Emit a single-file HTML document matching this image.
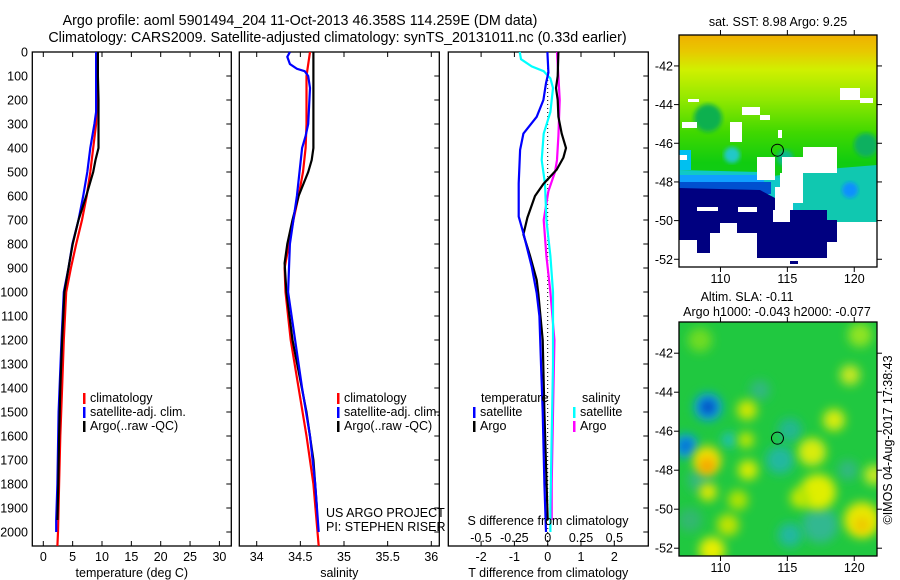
<!DOCTYPE html>
<html><head><meta charset="utf-8"><style>
html,body{margin:0;padding:0;background:#fff;width:900px;height:580px;overflow:hidden}
svg{display:block;font-family:"Liberation Sans",sans-serif}
</style></head><body>
<svg id="fig" width="900" height="580" viewBox="0 0 900 580" xmlns="http://www.w3.org/2000/svg">
<defs>
<filter id="blur4" x="-80%" y="-80%" width="260%" height="260%"><feGaussianBlur stdDeviation="5"/></filter>
<filter id="blur2"><feGaussianBlur stdDeviation="2"/></filter>
<linearGradient id="sstgrad" x1="0" y1="0" x2="0" y2="1">
<stop offset="0" stop-color="#f0b000"/><stop offset="0.07" stop-color="#e8c800"/><stop offset="0.15" stop-color="#d0f000"/><stop offset="0.28" stop-color="#90e800"/><stop offset="0.42" stop-color="#40d800"/><stop offset="0.55" stop-color="#10cc10"/><stop offset="1" stop-color="#10c840"/>
</linearGradient>
<clipPath id="clipTop"><rect x="679" y="35" width="198" height="232"/></clipPath>
<clipPath id="clipBot"><rect x="679" y="322" width="198" height="234"/></clipPath>
</defs>
<g id="titles" font-size="14.3" fill="#000">
<text x="300" y="25" text-anchor="middle">Argo profile: aoml 5901494_204 11-Oct-2013 46.358S 114.259E (DM data)</text>
<text x="337.5" y="42" text-anchor="middle">Climatology: CARS2009. Satellite-adjusted climatology: synTS_20131011.nc (0.33d earlier)</text>
</g>
<g id="panels"></g>
<g id="maps"></g>
</svg>
<script>
// ---------- data ----------
const depthTicks = [0,100,200,300,400,500,600,700,800,900,1000,1100,1200,1300,1400,1500,1600,1700,1800,1900,2000];
const tempTicks = [0,5,10,15,20,25,30];
const salTicks = [34,34.5,35,35.5,36];
const salTickLabels = ["34","34.5","35","35.5","36"];
const tdiffTicks = [-2,-1,0,1,2];
const sdiffTicks = [-0.5,-0.25,0,0.25,0.5];
const sdiffTickLabels = ["-0.5","-0.25","0","0.25","0.5"];

const tArgoDepth = [0,100,200,300,400,450,500,600,700,800,900,1000,1200,1400,1600,1800,1950];
const tArgoVal   = [9.3,9.3,9.4,9.4,9.4,8.9,8.5,7.3,6.0,5.0,4.3,3.6,3.2,2.9,2.7,2.55,2.4];
const tSatDepth  = [0,250,300,400,500,600,700,800,900,1000,1200,1500,1800,1950,2000];
const tSatVal    = [9.0,9.0,8.7,8.0,7.5,6.8,6.0,4.95,4.3,3.5,3.1,2.6,2.4,2.2,2.2];
const tClimDepth = [0,200,300,400,500,600,700,800,900,1000,1200,1400,1600,1800,2000,2058];
const tClimVal   = [9.1,9.1,9.0,8.5,8.0,7.4,6.6,5.6,4.7,3.9,3.5,3.2,2.9,2.7,2.5,2.4];

const sArgoDepth = [0,400,450,500,600,700,800,880,1000,1200,1500,1700,1900];
const sArgoVal   = [34.65,34.65,34.63,34.59,34.48,34.41,34.35,34.32,34.34,34.41,34.57,34.65,34.69];
const sSatDepth  = [0,20,50,70,80,100,150,300,350,400,500,600,700,800,900,1000,1200,1400,1600,1800,2000];
const sSatVal    = [34.38,34.35,34.38,34.46,34.55,34.59,34.61,34.59,34.56,34.52,34.49,34.46,34.42,34.38,34.37,34.36,34.44,34.52,34.61,34.67,34.71];
const sClimDepth = [0,100,300,400,500,600,700,800,900,1000,1200,1400,1600,1800,2058];
const sClimVal   = [34.61,34.57,34.57,34.56,34.53,34.48,34.42,34.37,34.32,34.33,34.39,34.48,34.57,34.65,34.71];

const dTSatDepth = [0,86,130,200,270,340,408,547,686,755,894,1005,1100,1300,1500,1800,2000];
const dTSatVal   = [-0.01,0.02,-0.05,-0.13,-0.33,-0.73,-0.83,-0.87,-0.87,-0.73,-0.48,-0.33,-0.25,-0.2,-0.15,-0.1,-0.05];
const dTArgoDepth = [0,100,150,200,270,340,400,440,490,550,600,690,760,850,950,1010,1200,1500,1950];
const dTArgoVal   = [0.32,0.3,0.25,0.3,0.32,0.42,0.55,0.47,0.27,-0.13,-0.38,-0.61,-0.73,-0.53,-0.33,-0.28,-0.15,-0.1,0.0];
const dSSatDepth = [0,30,60,80,110,150,250,340,450,550,700,850,1000,1300,1600,1900,2000];
const dSSatVal   = [-0.21,-0.2,-0.12,-0.03,0.02,0.04,0.02,-0.03,-0.045,-0.02,-0.01,0.02,0.04,0.04,0.03,0.02,0.02];
const dSArgoDepth = [0,100,200,350,450,500,580,700,850,1000,1200,1500,1800,1950];
const dSArgoVal   = [0.07,0.08,0.09,0.08,0.07,0.055,0.005,-0.03,-0.01,0.02,0.05,0.04,0.03,0.03];

const latTicks = [-42,-44,-46,-48,-50,-52];
const lonTicks = [110,115,120];
const argoLon = 114.259, argoLat = -46.358;

// ---------- helpers ----------
const NS = "http://www.w3.org/2000/svg";
function mk(tag, attrs, parent){ const e=document.createElementNS(NS,tag); for(const k in attrs) e.setAttribute(k,attrs[k]); if(parent) parent.appendChild(e); return e; }
const TOP=52, BOT=546;
const yD = d => TOP + d*0.24;
const panelsG = document.getElementById('panels');

function txt(parent, x, y, s, anchor, size){ const t=mk('text',{x:x,y:y,'text-anchor':anchor||'start','font-size':size||12.5},parent); t.textContent=s; return t; }

function drawPanel(name, L, R, xfn, ticks, labels, title){
  const g = mk('g',{},panelsG);
  
  
  mk('rect',{x:L,y:TOP,width:R-L,height:BOT-TOP,fill:'none',stroke:'#000','stroke-width':1.3},g);
  depthTicks.forEach(d=>{ mk('line',{x1:R-5,x2:R,y1:yD(d),y2:yD(d),stroke:'#000'},g); });
  ticks.forEach((v,i)=>{ const x=xfn(v);
    mk('line',{x1:x,x2:x,y1:TOP,y2:TOP+5,stroke:'#000'},g);
    mk('line',{x1:x,x2:x,y1:BOT-5,y2:BOT,stroke:'#000'},g);
    if(labels){ const t=txt(g,x,561,labels[i],'middle');
      
       }
  });
  if(title){ const t=txt(g,(L+R)/2,577,title,'middle');
    
     }
  return g;
}
function line(g, name, depths, vals, xfn, color, w){
  const pts = depths.map((d,i)=> xfn(vals[i]).toFixed(1)+','+yD(d).toFixed(1)).join(' ');
  const p = mk('polyline',{points:pts,fill:'none',stroke:color,'stroke-width':w||2.2,'stroke-linejoin':'miter'},g);
  
  
}
function legend(g, x, y, items){
  items.forEach((it,i)=>{
    mk('rect',{x:x,y:y+i*14-9,width:2.5,height:11,fill:it[0]},g);
    const t=txt(g,x+7,y+i*14,it[1],'start');
    
    
  });
}

// y-axis labels
const yg = mk('g',{},panelsG);


depthTicks.forEach(d=>{ txt(yg,28,yD(d)+4.5,String(d),'end'); });

// temperature panel
const xT = v => 43.3 + v*5.87;
const gT = drawPanel('temperature-panel',32.3,231.3,xT,tempTicks,tempTicks.map(String),'temperature (deg C)');
line(gT,'temp-climatology-line',tClimDepth,tClimVal,xT,'#ff0000');
line(gT,'temp-satellite-line',tSatDepth,tSatVal,xT,'#0000ff');
line(gT,'temp-argo-line',tArgoDepth,tArgoVal,xT,'#000000');
legend(gT,83,402,[['#ff0000','climatology'],['#0000ff','satellite-adj. clim.'],['#000','Argo(..raw -QC)']]);

// salinity panel
const xS = v => 256.7 + (v-34)*87.3;
const gS = drawPanel('salinity-panel',239.3,439.3,xS,salTicks,salTickLabels,'salinity');
line(gS,'sal-climatology-line',sClimDepth,sClimVal,xS,'#ff0000');
line(gS,'sal-argo-line',sArgoDepth,sArgoVal,xS,'#000000');
line(gS,'sal-satellite-line',sSatDepth,sSatVal,xS,'#0000ff');
legend(gS,337,402,[['#ff0000','climatology'],['#0000ff','satellite-adj. clim.'],['#000','Argo(..raw -QC)']]);
txt(gS,326,517,'US ARGO PROJECT','start');
txt(gS,326,531,'PI: STEPHEN RISER','start');

// difference panel
const xDT = v => 547.7 + v*33.3;
const xDS = v => 547.7 + v*133.3;
const gD = drawPanel('difference-panel',448.3,648.3,xDT,tdiffTicks,tdiffTicks.map(String),'T difference from climatology');
mk('line',{x1:xDT(0),x2:xDT(0),y1:TOP,y2:BOT,stroke:'#000','stroke-dasharray':'1,3'},gD);
line(gD,'s-diff-argo-line',dSArgoDepth,dSArgoVal,xDS,'#ff00ff');
line(gD,'s-diff-satellite-line',dSSatDepth,dSSatVal,xDS,'#00ffff');
line(gD,'t-diff-argo-line',dTArgoDepth,dTArgoVal,xDT,'#000000');
line(gD,'t-diff-satellite-line',dTSatDepth,dTSatVal,xDT,'#0000ff');
sdiffTicks.forEach((v,i)=>{ const t=txt(gD,xDS(v),542,sdiffTickLabels[i],'middle');
  
   });
txt(gD,548,525,'S difference from climatology','middle');
txt(gD,481,402,'temperature','start');
legend(gD,473,416,[['#0000ff','satellite'],['#000','Argo']]);
txt(gD,582,402,'salinity','start');
legend(gD,573,416,[['#00ffff','satellite'],['#ff00ff','Argo']]);

// ---------- maps ----------
const mapsG = document.getElementById('maps');
function mapAxes(g, top, bottom){
  const L=679, R=877;
  const yLat = lat => top + (-40.4 - lat)/12.0*(bottom-top);
  const xLon = lon => L + (lon-106.9)/14.8*(R-L);
  mk('rect',{x:L,y:top,width:R-L,height:bottom-top,fill:'none',stroke:'#000','stroke-width':1.3},g);
  latTicks.forEach(v=>{ const y=yLat(v);
    mk('line',{x1:L-5,x2:L,y1:y,y2:y,stroke:'#000'},g);
    mk('line',{x1:R,x2:R+5,y1:y,y2:y,stroke:'#000'},g);
    const t=txt(g,L-6,y+4.5,String(v),'end');
    
     });
  lonTicks.forEach(v=>{ const x=xLon(v);
    mk('line',{x1:x,x2:x,y1:top-5,y2:top,stroke:'#000'},g);
    mk('line',{x1:x,x2:x,y1:bottom,y2:bottom+5,stroke:'#000'},g);
    const t=txt(g,x,bottom+16,String(v),'middle');
    
     });
  const m=mk('circle',{cx:xLon(argoLon),cy:yLat(argoLat),r:6,fill:'none',stroke:'#000','stroke-width':1},g);
  
  
}

// SST map
const gM1 = mk('g',{},mapsG);


txt(gM1,778,26,'sat. SST: 8.98 Argo: 9.25','middle');
const c1 = mk('g',{'clip-path':'url(#clipTop)'},gM1);
mk('rect',{x:679,y:35,width:198,height:232,fill:'url(#sstgrad)'},c1);
[[708,118,14,'#10b050'],[732,155,8,'#20c8c8'],[785,158,8,'#10b890'],[866,145,12,'#10b060']].forEach(b=>mk('circle',{cx:b[0],cy:b[1],r:b[2],fill:b[3],filter:'url(#blur2)'},c1));
mk('rect',{x:679,y:150,width:12,height:20,fill:'#00c0f0'},c1);
mk('polygon',{points:'760,178 800,172 840,168 877,165 877,225 760,225',fill:'#10c8b0'},c1);
mk('polygon',{points:'679,170 760,172 790,182 800,200 800,230 679,230',fill:'#10c8c8'},c1);
mk('circle',{cx:850,cy:190,r:8,fill:'#1090ff',filter:'url(#blur2)'},c1);
mk('rect',{x:679,y:175,width:85,height:12,fill:'#10a0ff'},c1);
mk('rect',{x:679,y:182,width:92,height:12,fill:'#0050d0'},c1);
mk('polygon',{points:'679,188 760,190 775,198 790,205 790,210 827,210 827,258 757,258 757,240 679,240',fill:'#000080'},c1);
mk('rect',{x:813,y:220,width:24,height:22,fill:'#000080'},c1);
mk('rect',{x:697,y:237,width:13,height:16,fill:'#000080'},c1);
[[688,99,11,3],[682,122,15,6],[730,122,12,20],[742,107,18,8],[760,115,10,5],[778,130,4,8],
 [679,155,8,5],[757,157,18,23],[782,157,21,16],[803,147,34,26],[840,88,20,12],[860,98,13,5],
 [780,173,23,30],[775,187,18,23],[697,207,21,4],[738,207,19,5],[773,210,17,12],
 [679,240,18,27],[697,253,13,14],[710,233,47,34],[720,223,17,10],[757,258,70,9],
 [827,242,50,25],[837,222,40,20]].forEach(r=>mk('rect',{x:r[0],y:r[1],width:r[2],height:r[3],fill:'#fff'},c1));
mk('rect',{x:790,y:261,width:8,height:3,fill:'#000080'},c1);
mapAxes(gM1,35,267);

// SLA map
const gM2 = mk('g',{},mapsG);


txt(gM2,747,301,'Altim. SLA: -0.11','middle');
txt(gM2,777,316,'Argo h1000: -0.043 h2000: -0.077','middle');
const c2 = mk('g',{'clip-path':'url(#clipBot)'},gM2);
mk('rect',{x:679,y:322,width:198,height:234,fill:'#20c840'},c2);
const blobs = [
 [700,340,12,'#70dc20'],[860,335,12,'#90e420'],[850,375,10,'#c8e820'],
 [780,460,14,'#20b8a0'],[790,430,12,'#20b890'],[760,390,10,'#30b880'],[700,480,12,'#30b880'],
 [690,520,12,'#30b870'],[820,525,18,'#30b890'],[790,535,12,'#20b8a0'],[848,470,10,'#30b880'],
 [708,407,14,'#10a0e0'],[708,407,7,'#0040c0'],[686,446,12,'#10a0e0'],[686,446,6,'#0060d0'],[729,440,7,'#20c0c0'],
 [707,460,14,'#f0e000'],[707,466,8,'#f8a000'],[708,492,9,'#e0e800'],
 [747,410,10,'#d0e800'],[746,440,8,'#c0e800'],[748,470,10,'#d8ec00'],[738,500,10,'#b0e400'],[728,525,11,'#c0e400'],[712,550,13,'#e8ee00'],
 [812,452,14,'#d8ec10'],[834,420,11,'#d8ec10'],[818,492,18,'#e0ee00'],[800,498,10,'#c0e800'],
 [862,520,18,'#e8e800'],[862,525,7,'#f0c000'],[874,475,10,'#c8e820']
];
blobs.forEach(b=>mk('circle',{cx:b[0],cy:b[1],r:b[2],fill:b[3],filter:'url(#blur4)'},c2));
mapAxes(gM2,322,556);

const cr = txt(mapsG,0,0,'©IMOS 04-Aug-2017 17:38:43','middle');
cr.setAttribute('transform','translate(892,440) rotate(-90)');


</script>
</body></html>
